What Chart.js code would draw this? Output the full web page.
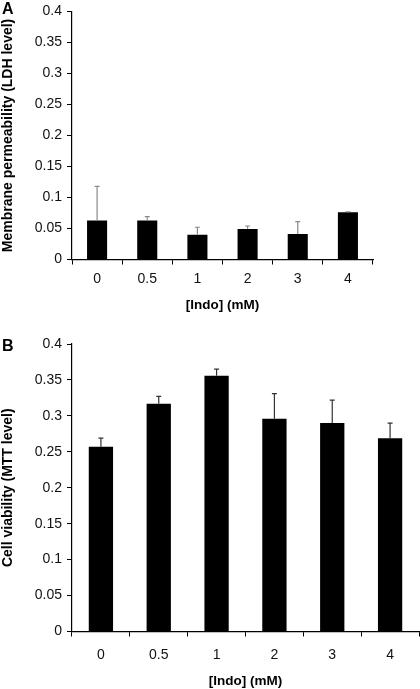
<!DOCTYPE html>
<html>
<head>
<meta charset="utf-8">
<script src="https://cdn.jsdelivr.net/npm/chart.js@4"></script>
<style>
  body { margin: 0; background: #fff; width: 420px; height: 689px; position: relative; overflow: hidden; }
  .panel { position: absolute; left: 0; }
  .letter { position: absolute; left: 2px; font: bold 16px "Liberation Sans", Arial, sans-serif; line-height: 16px; color: #000; }
</style>
</head>
<body>
<div class="panel" style="top:-2px"><canvas id="chartA" width="420" height="322"></canvas></div>
<div class="panel" style="top:320px"><canvas id="chartB" width="420" height="369"></canvas></div>
<div class="letter" style="top:1px">A</div>
<div class="letter" style="top:338px">B</div>
<script>
// DATA

const doses = ["0", "0.5", "1", "2", "3", "4"];
const ldhMean = [0.063, 0.063, 0.040, 0.049, 0.041, 0.076];
const ldhErr = [0.055, 0.006, 0.012, 0.005, 0.020, 0.001];
const mttMean = [0.257, 0.317, 0.356, 0.296, 0.290, 0.269];
const mttErr = [0.012, 0.010, 0.009, 0.035, 0.032, 0.021];
const yTickLabels = ["0", "0.05", "0.1", "0.15", "0.2", "0.25", "0.3", "0.35", "0.4"];

const FONT = "'Liberation Sans', Arial, sans-serif";

// ERROR BARS (upper only)

const errorBars = {
  id: "errorBars",
  afterDatasetsDraw(chart) {
    const ctx = chart.ctx;
    const yScale = chart.scales.y;
    chart.data.datasets.forEach((ds, i) => {
      const meta = chart.getDatasetMeta(i);
      meta.data.forEach((bar, j) => {
        const top = yScale.getPixelForValue(ds.data[j] + ds.errors[j]);
        ctx.save();
        ctx.strokeStyle = ds.errColor;
        ctx.lineWidth = 1.2;
        ctx.beginPath();
        ctx.moveTo(bar.x, bar.y);
        ctx.lineTo(bar.x, top);
        ctx.moveTo(bar.x - 2.5, top);
        ctx.lineTo(bar.x + 2.5, top);
        ctx.stroke();
        ctx.restore();
      });
    });
  },
};

// DRAW ONE PANEL

function draw(id, values, errors, errColor, yTitle, opts) {
  const ctx = document.getElementById(id).getContext("2d");
  return new Chart(ctx, {
    type: "bar",
    data: {
      labels: doses,
      datasets: [
        {
          data: values,
          errors: errors,
          errColor: errColor,
          backgroundColor: "#000",
          borderWidth: 0,
          barPercentage: opts.barPct,
          categoryPercentage: 1,
        },
      ],
    },
    options: {
      responsive: false,
      devicePixelRatio: 1,
      animation: false,
      layout: { padding: { left: 0, right: opts.padRight, top: opts.padTop, bottom: 0 } },
      plugins: { legend: { display: false }, tooltip: { enabled: false } },
      scales: {
        x: {
          grid: { display: true, drawOnChartArea: false, offset: true, tickLength: 5, color: "#000", tickWidth: 1 },
          border: { color: "#000", width: 1.2 },
          ticks: { color: "#111", font: { family: FONT, size: 14 }, padding: opts.xTickPad },
          title: {
            display: true,
            text: "[Indo] (mM)",
            color: "#000",
            font: { family: FONT, size: 13.5, weight: "bold" },
            padding: { top: 0, bottom: opts.xTitlePad },
          },
          afterFit: (s) => { s.height = opts.xHeight; },
        },
        y: {
          min: 0,
          max: 0.4,
          grid: { display: true, drawOnChartArea: false, tickLength: 5, color: "#000", tickWidth: 1 },
          border: { color: "#000", width: 1.2 },
          ticks: {
            stepSize: 0.05,
            color: "#111",
            font: { family: FONT, size: 14 },
            padding: 5,
            callback: (v, i) => yTickLabels[i],
          },
          title: {
            display: true,
            text: yTitle,
            color: "#000",
            font: { family: FONT, size: 14, weight: "bold" },
            padding: { top: 0, bottom: 0 },
          },
          afterFit: (s) => { s.width = 72; },
        },
      },
    },
    plugins: [errorBars],
  });
}

draw("chartA", ldhMean, ldhErr, "#8a8a8a", "Membrane permeability (LDH level)", {
  barPct: 0.4, padRight: 47, padTop: 0, xHeight: 60.5, xTickPad: 6, xTitlePad: 7,
});

draw("chartB", mttMean, mttErr, "#333", "Cell viability (MTT level)", {
  barPct: 0.42, padRight: 1, padTop: 24, xHeight: 57.5, xTickPad: 10, xTitlePad: 0,
});
</script>
</body>
</html>
